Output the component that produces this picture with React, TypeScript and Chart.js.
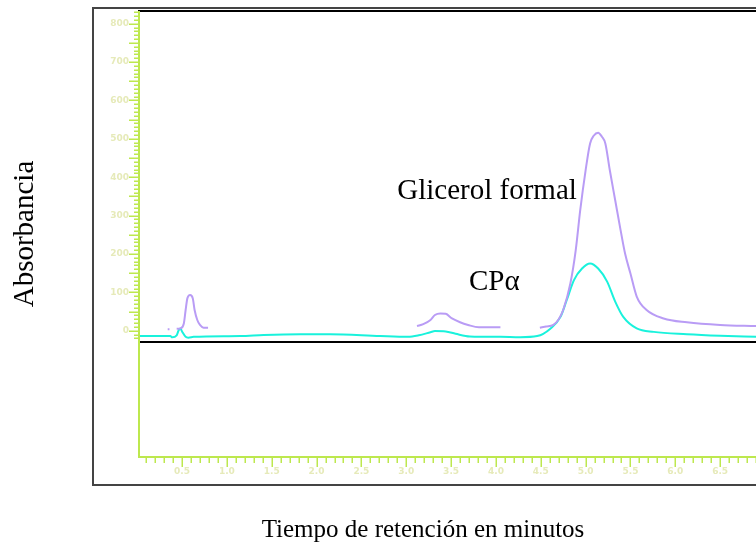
import React, { useEffect, useRef } from "react";
import { Chart, registerables } from "chart.js";

Chart.register(...registerables);

// Retention time (min) and absorbance for the Glicerol formal trace (null = gap in trace)
const purpleTime = [0.34, 0.36, 0.43, 0.44, 0.48, 0.52, 0.54, 0.56, 0.59, 0.62, 0.64, 0.67, 0.70, 0.74, 0.79,
  3.06, 3.12, 3.19, 3.27, 3.32, 3.38, 3.44, 3.51, 3.60, 3.69, 3.81, 4.05, 4.06,
  4.49, 4.56, 4.64, 4.70, 4.75, 4.83, 4.89, 4.94, 5.00, 5.05, 5.09, 5.14, 5.18, 5.22, 5.27, 5.33, 5.39, 5.44, 5.50, 5.57, 5.68, 5.87, 6.13, 6.50, 6.90];
const purpleAbs = [4, 4, null, 5, 6, 19, 54, 85, 93, 84, 54, 28, 15, 8, 8,
  null, 12, 17, 28, 41, 45, 44, 32, 22, 15, 9, 9, null,
  8, 11, 15, 30, 54, 123, 210, 314, 418, 488, 508, 516, 506, 488, 418, 340, 262, 201, 149, 89, 54, 32, 22, 15, 12];

// Retention time (min) and absorbance for the CPα trace
const cyanTime = [0.02, 0.37, 0.39, 0.44, 0.46, 0.48, 0.50, 0.54, 0.57, 0.63, 1.15, 1.41, 1.82, 2.15, 2.71, 3.02, 3.14, 3.27, 3.32, 3.44, 3.55, 3.71, 4.05, 4.27, 4.46, 4.61, 4.72, 4.79, 4.87, 4.96, 5.05, 5.14, 5.24, 5.33, 5.42, 5.57, 5.76, 6.13, 6.50, 6.90];
const cyanAbs = [-14, -14, -17, -12, 0, 6, -2, -16, -18, -16, -14, -11, -9, -9, -14, -16, -12, -4, -1, -2, -8, -15, -16, -17, -14, 6, 36, 80, 132, 162, 175, 162, 128, 76, 36, 6, -3, -9, -13, -16];

// Axis tick labels
const yTickLabels = ["0", "100", "200", "300", "400", "500", "600", "700", "800"];
const xTickLabels = ["0.5", "1.0", "1.5", "2.0", "2.5", "3.0", "3.5", "4.0", "4.5", "5.0", "5.5", "6.0", "6.5"];

const X_MIN = 0.02;
const X_MAX = 6.9;
const Y_MIN = -329;
const Y_MAX = 833;
const Y_TICK_FROM = -20;
const Y_TICK_TO = 830;
const BASELINE = -29;

const annotations = [
  { text: "Glicerol formal", x: 2.9, y: 343 },
  { text: "CPα", x: 3.7, y: 107 },
];

const AXIS_GREEN = "#bde84e";
const LABEL_COLOR = "#e6eab9";

const axesPlugin = {
  id: "chromAxes",
  beforeDatasetsDraw(chart: any) {
    const { ctx, chartArea } = chart;
    const ys = chart.scales.y;
    ctx.save();
    // outer frame
    ctx.strokeStyle = "#444";
    ctx.lineWidth = 2;
    ctx.beginPath();
    ctx.moveTo(chart.width + 5, 8);
    ctx.lineTo(93, 8);
    ctx.lineTo(93, 485);
    ctx.lineTo(chart.width + 5, 485);
    ctx.stroke();
    // black lines
    ctx.strokeStyle = "#000";
    ctx.lineWidth = 2;
    ctx.beginPath();
    ctx.moveTo(chartArea.left - 1, chartArea.top);
    ctx.lineTo(chartArea.right, chartArea.top);
    const by = Math.round(ys.getPixelForValue(BASELINE));
    ctx.moveTo(chartArea.left, by);
    ctx.lineTo(chartArea.right, by);
    ctx.stroke();
    ctx.restore();
  },
  afterDatasetsDraw(chart: any) {
    const { ctx, chartArea } = chart;
    const xs = chart.scales.x;
    const ys = chart.scales.y;
    ctx.save();
    ctx.strokeStyle = AXIS_GREEN;
    ctx.lineWidth = 2;
    ctx.beginPath();
    ctx.moveTo(chartArea.left, chartArea.top);
    ctx.lineTo(chartArea.left, chartArea.bottom);
    ctx.lineTo(chartArea.right, chartArea.bottom);
    ctx.stroke();
    // y ticks
    ctx.lineWidth = 1.5;
    ctx.beginPath();
    for (let v = Y_TICK_FROM; v <= Y_TICK_TO; v += 10) {
      const py = Math.round(ys.getPixelForValue(v)) + 0.25;
      const len = v % 50 === 0 ? 10 : 5;
      ctx.moveTo(chartArea.left, py);
      ctx.lineTo(chartArea.left - len, py);
    }
    // x ticks
    for (let i = 1; i <= 69; i++) {
      const t = i / 10;
      const px = Math.round(xs.getPixelForValue(t)) + 0.25;
      const len = i % 5 === 0 ? 10 : 6;
      ctx.moveTo(px, chartArea.bottom);
      ctx.lineTo(px, chartArea.bottom + len);
    }
    ctx.stroke();
    // labels
    ctx.fillStyle = LABEL_COLOR;
    ctx.font = "bold 9px 'DejaVu Sans'";
    ctx.textAlign = "right";
    ctx.textBaseline = "middle";
    yTickLabels.forEach((l) => {
      ctx.fillText(l, chartArea.left - 10, ys.getPixelForValue(Number(l)));
    });
    ctx.textAlign = "center";
    xTickLabels.forEach((l) => {
      ctx.fillText(l, xs.getPixelForValue(Number(l)), chartArea.bottom + 15);
    });
    // annotations
    ctx.fillStyle = "#000";
    ctx.font = "29px 'Liberation Serif'";
    ctx.textAlign = "left";
    ctx.textBaseline = "alphabetic";
    annotations.forEach((a) => {
      ctx.fillText(a.text, xs.getPixelForValue(a.x), ys.getPixelForValue(a.y));
    });
    // axis titles
    ctx.font = "25px 'Liberation Serif'";
    ctx.textAlign = "center";
    ctx.fillText("Tiempo de retención en minutos", 423, 537);
    ctx.save();
    ctx.translate(33, 234);
    ctx.rotate(-Math.PI / 2);
    ctx.font = "29px 'Liberation Serif'";
    ctx.fillText("Absorbancia", 0, 0);
    ctx.restore();
    ctx.restore();
  },
};

function toPoints(ts: number[], vs: (number | null)[]) {
  return ts.map((t, i) => ({ x: t, y: vs[i] }));
}

export default function App() {
  const ref = useRef<HTMLCanvasElement | null>(null);
  useEffect(() => {
    if (!ref.current) return;
    const chart = new Chart(ref.current, {
      type: "line",
      data: {
        datasets: [
          {
            label: "Glicerol formal",
            data: toPoints(purpleTime, purpleAbs) as any,
            borderColor: "#b99cf5",
            borderWidth: 2,
            pointRadius: 0,
            cubicInterpolationMode: "monotone",
            spanGaps: false,
          },
          {
            label: "CPα",
            data: toPoints(cyanTime, cyanAbs) as any,
            borderColor: "#19f2dc",
            borderWidth: 2,
            pointRadius: 0,
            cubicInterpolationMode: "monotone",
            spanGaps: false,
          },
        ],
      },
      options: {
        animation: false,
        responsive: false,
        layout: { padding: { left: 139, top: 11, right: 0, bottom: 89 } },
        plugins: { legend: { display: false }, tooltip: { enabled: false }, title: { display: false } },
        scales: {
          x: { type: "linear", min: X_MIN, max: X_MAX, display: false },
          y: { type: "linear", min: Y_MIN, max: Y_MAX, display: false },
        },
      },
      plugins: [axesPlugin],
    });
    return () => chart.destroy();
  }, []);
  return (
    <div style={{ position: "fixed", left: 0, top: 0, width: 756, height: 546, background: "#fff" }}>
      <canvas ref={ref} width={756} height={546} style={{ display: "block" }} />
    </div>
  );
}
